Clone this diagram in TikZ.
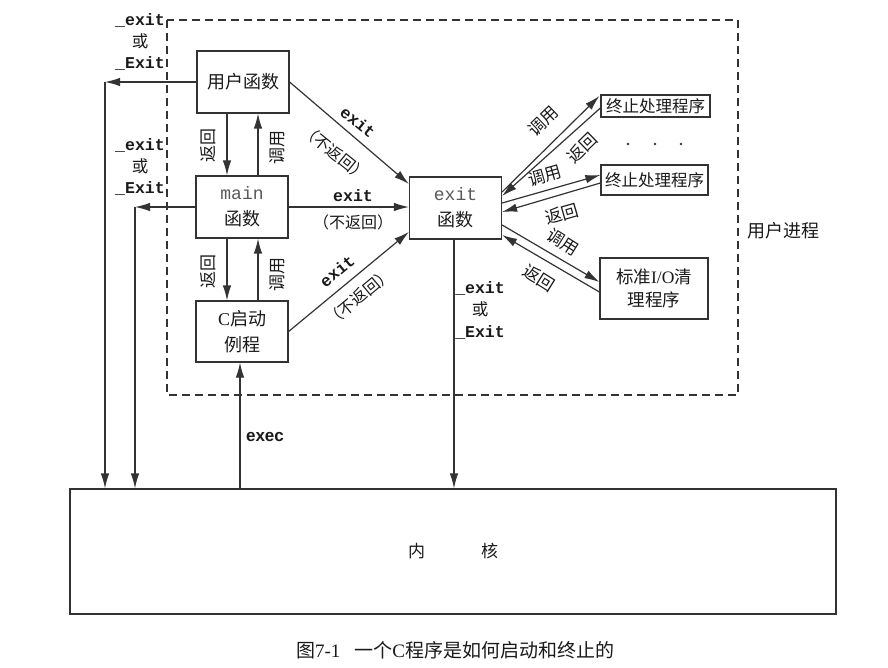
\documentclass[tikz,border=0pt]{standalone}
\usepackage{fontspec}
\setmainfont{Liberation Serif}
\newfontfamily\cjk{Noto Sans CJK SC}
\newfontfamily\monof{Liberation Mono}
\newfontfamily\sansf{Liberation Sans}
\usetikzlibrary{arrows.meta}
\definecolor{lc}{HTML}{333333}
\definecolor{tc}{HTML}{1A1A1A}
\begin{document}
\begin{tikzpicture}[x=1pt,y=-1pt,
 box/.style={draw=lc,line width=1.2pt,inner sep=0pt,align=center,text=tc,font=\cjk\fontsize{18}{26}\selectfont},
 arr/.style={draw=lc,line width=1.2pt,-{Latex[length=15pt,width=8.5pt]}},
 cl/.style={text=tc,inner sep=0pt,font=\cjk\fontsize{17}{19}\selectfont},
 pl/.style={text=tc,inner sep=0pt,font=\cjk\fontsize{16}{18}\selectfont},
 ml/.style={text=tc,inner sep=0pt,font=\monof\bfseries\fontsize{16.5}{18}\selectfont},
 sl/.style={text=tc,inner sep=0pt,align=center,font=\monof\bfseries\fontsize{16.5}{21.5}\selectfont}
]
\useasboundingbox[fill=white] (0,0) rectangle (888,668);

% user process boundary
\draw[lc,line width=1.1pt,dash pattern=on 8pt off 5pt] (167,20) rectangle (738,395);
\node[cl,font=\cjk\fontsize{18}{20}\selectfont] (proc) at (783,231) {用户进程};

% boxes
\node[box,minimum width=92pt,minimum height=62pt] (uf) at (243,82) {用户函数};
\node[box,minimum width=92pt,minimum height=62pt] (mn) at (242,207) {{\monof\color{black!65}main}\\函数};
\node[box,minimum width=92pt,minimum height=61pt] (cs) at (242,331.5) {{\rmfamily C}启动\\例程};
\node[box,minimum width=92pt,minimum height=62pt] (ex) at (455.5,208) {{\monof\color{black!65}exit}\\函数};
\node[box,minimum width=109pt,minimum height=22pt,font=\cjk\fontsize{16.5}{18}\selectfont] (t1) at (655.5,106) {终止处理程序};
\node[box,minimum width=107pt,minimum height=30pt,font=\cjk\fontsize{16.5}{18}\selectfont] (t2) at (654.5,180) {终止处理程序};
\node[box,minimum width=108pt,minimum height=61pt,font=\cjk\fontsize{17.5}{23}\selectfont] (io) at (654,288.5) {标准{\rmfamily I/O}清\\理程序};
\node[box,minimum width=766pt,minimum height=125pt,font=\cjk\fontsize{17}{18}\selectfont] (kn) at (453,551.5) {内\hspace{56pt}核};

\fill[lc] (628,144) circle[radius=1.4pt];
\fill[lc] (655,144) circle[radius=1.4pt];
\fill[lc] (681,144) circle[radius=1.4pt];

% left exits to kernel
\coordinate (c1) at (105,82);
\coordinate (c2) at (135,207);
\draw[arr] (uf.west) -- (c1);
\draw[arr] (c1) -- (c1 |- kn.north);
\draw[arr] (mn.west) -- (c2);
\draw[arr] (c2) -- (c2 |- kn.north);
\node[sl] (l1) at (140,42) {\_exit\\{\cjk\mdseries 或}\\\_Exit};
\node[sl] (l2) at (140,167) {\_exit\\{\cjk\mdseries 或}\\\_Exit};

% call / return verticals
\draw[arr] ([xshift=-16pt]uf.south) -- ([xshift=-16pt]uf.south |- mn.north);
\draw[arr] ([xshift=15pt]uf.south |- mn.north) -- ([xshift=15pt]uf.south);
\draw[arr] ([xshift=-15pt]mn.south) -- ([xshift=-15pt]mn.south |- cs.north);
\draw[arr] ([xshift=16pt]mn.south |- cs.north) -- ([xshift=16pt]mn.south);
\node[cl,rotate=90] (r1) at (208,146) {返回};
\node[cl,rotate=90] (u1) at (277,148) {调用};
\node[cl,rotate=90] (r2) at (208,271) {返回};
\node[cl,rotate=90] (u2) at (277,274) {调用};

% exec
\draw[arr] ([xshift=-2pt]kn.north -| cs.south) -- ([xshift=-2pt]cs.south);
\node[text=tc,inner sep=0pt,font=\sansf\bfseries\fontsize{17}{18}\selectfont] (xc) at (265,437) {exec};

% exit calls
\draw[arr] (uf.east) -- ([yshift=24pt]ex.west);
\draw[arr] (mn.east) -- (mn.east -| ex.west);
\draw[arr] (cs.east) -- ([yshift=-24pt]ex.west);
\node[ml,rotate=-39] (e1) at (358,122) {exit};
\node[pl,rotate=-39] (n1) at (335,153) {（不返回）};
\node[ml] (e2) at (353,196) {exit};
\node[pl] (n2) at (353,222) {（不返回）};
\node[ml,rotate=40] (e3) at (337,271) {exit};
\node[pl,rotate=40] (n3) at (359,297) {（不返回）};

% exit -> kernel
\draw[arr] ([xshift=-1.5pt]ex.south) -- ([xshift=-1.5pt]ex.south |- kn.north);
\node[sl,font=\monof\bfseries\fontsize{16.5}{22}\selectfont] (l3) at (480,310) {\_exit\\{\cjk\mdseries 或}\\\_Exit};

% exit handlers
\draw[arr] ([yshift=16pt]ex.east) -- ([xshift=-1pt,yshift=10pt]t1.west);
\draw[arr] ([yshift=-2pt]t1.west) -- ([yshift=12pt]ex.east);
\draw[arr] ([yshift=5pt]ex.east) -- ([yshift=5pt]t2.west);
\draw[arr] ([yshift=-3pt]t2.west) -- ([yshift=-4pt]ex.east);
\draw[arr] ([yshift=-17pt]ex.east) -- ([yshift=6.5pt]io.west);
\draw[arr] ([yshift=-3.5pt]io.west) -- ([yshift=-27pt]ex.east);
\node[cl,rotate=44] (u3) at (543,121) {调用};
\node[cl,rotate=44] (r3) at (582,148) {返回};
\node[cl,rotate=16] (u4) at (545,176) {调用};
\node[cl,rotate=16] (r4) at (562,214) {返回};
\node[cl,rotate=-32] (u5) at (563,242) {调用};
\node[cl,rotate=-32] (r5) at (539,278) {返回};

% caption
\node[cl,font=\cjk\fontsize{19}{22}\selectfont] (cap) at (455,650) {图{\rmfamily 7-1}\hspace{14pt}一个{\rmfamily C}程序是如何启动和终止的};
\end{tikzpicture}
\end{document}
